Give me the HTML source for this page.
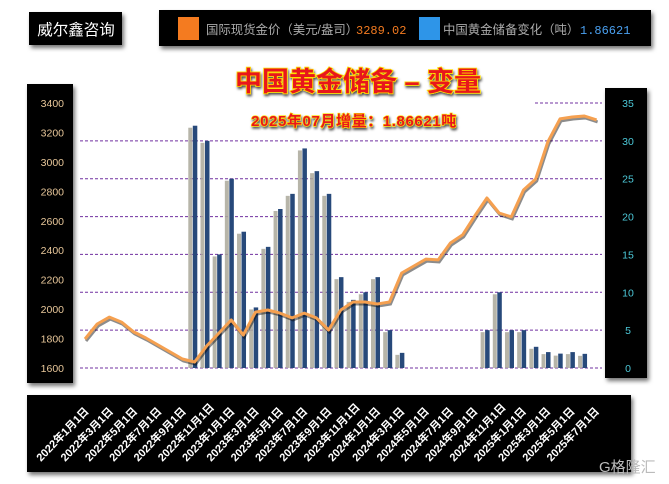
<!DOCTYPE html>
<html><head><meta charset="utf-8"><style>
body{margin:0;width:669px;height:484px;background:#fff;overflow:hidden;font-family:"Liberation Sans","Noto Sans CJK SC",sans-serif}
svg{display:block}
</style></head><body>
<svg id="c" width="669" height="484" xmlns="http://www.w3.org/2000/svg">
<defs>
<filter id="sh" x="-20%" y="-20%" width="140%" height="160%"><feDropShadow dx="2" dy="3" stdDeviation="2" flood-color="#000" flood-opacity="0.55"/></filter>
<filter id="ls" x="-5%" y="-20%" width="110%" height="140%"><feDropShadow dx="1" dy="2" stdDeviation="1.2" flood-color="#000" flood-opacity="0.7"/></filter>
</defs>
<rect x="29" y="12" width="93" height="33" fill="#000" filter="url(#sh)"/>
<text x="76" y="35" fill="#fff" font-size="15.5" text-anchor="middle">威尔鑫咨询</text>
<g>
<rect x="159" y="10" width="492" height="36" fill="#000" filter="url(#sh)"/>
<rect x="178" y="17" width="21" height="23" fill="#f47b20"/>
<text x="206" y="34" fill="#aaa" font-size="12.4">国际现货金价（美元/盎司）</text>
<text x="356" y="34" fill="#f47b20" font-size="12" font-family="Liberation Mono">3289.02</text>
<rect x="419" y="17" width="21" height="23" fill="#2e95e8"/>
<text x="443" y="34" fill="#aaa" font-size="12.4">中国黄金储备变化（吨）</text>
<text x="580" y="34" fill="#4aa0f0" font-size="12" font-family="Liberation Mono">1.86621</text>
</g>
<rect x="27" y="84" width="46" height="299" fill="#000" filter="url(#sh)"/>
<rect x="605" y="88" width="42" height="290" fill="#000" filter="url(#sh)"/>
<rect x="27" y="395" width="604" height="77" fill="#000" filter="url(#sh)"/>
<g id="grid"></g><g id="bars"></g><g id="line"></g><g id="ticks"></g>
<text x="358" y="91" text-anchor="middle" font-size="27" font-weight="bold" fill="#e8141a" stroke="#ffe000" stroke-width="1.6" paint-order="stroke" filter="url(#ls)">中国黄金储备 – 变量</text>
<text x="354" y="126" text-anchor="middle" font-size="15" font-weight="bold" letter-spacing="0.6" fill="#e8141a" stroke="#ffe000" stroke-width="1.2" paint-order="stroke" filter="url(#ls)">2025年07月增量：1.86621吨</text>
<text x="599" y="472" font-size="15" fill="#bbb">G格隆汇</text>
</svg>
<script>
const reserveChange=[0,0,0,0,0,0,0,0,0,0,32,30,15,25,18,8,16,21,23,29,26,23,12,9,10,12,5,2,0,0,0,0,0,0,5,10,5,5,2.8,2.1,1.9,2.1,1.87];
const goldPrice=[1797,1899,1946,1912,1845,1804,1756,1709,1661,1641,1750,1838,1926,1824,1980,1994,1973,1940,1973,1940,1858,1994,2048,2048,2035,2048,2245,2293,2340,2334,2449,2504,2633,2755,2653,2626,2809,2884,3135,3292,3305,3312,3285];
const leftTicks=[1600,1800,2000,2200,2400,2600,2800,3000,3200,3400];
const rightTicks=[0,5,10,15,20,25,30,35];
const xLabels=["2022年1月1日","2022年3月1日","2022年5月1日","2022年7月1日","2022年9月1日","2022年11月1日","2023年1月1日","2023年3月1日","2023年5月1日","2023年7月1日","2023年9月1日","2023年11月1日","2024年1月1日","2024年3月1日","2024年5月1日","2024年7月1日","2024年9月1日","2024年11月1日","2025年1月1日","2025年3月1日","2025年5月1日","2025年7月1日"];
const NS="http://www.w3.org/2000/svg";
const yR=v=>368-v*(265/35);
const yL=v=>368-(v-1600)*(265/1800);
const xB=i=>73+12.18*i;
const xLn=i=>85+12.18*i;
function mk(t,a,p){const e=document.createElementNS(NS,t);for(const k in a)e.setAttribute(k,a[k]);p.appendChild(e);return e;}
const grid=document.getElementById('grid'),bars=document.getElementById('bars'),line=document.getElementById('line'),ticks=document.getElementById('ticks');
rightTicks.forEach(v=>{
 const g=mk('line',{x1:v===35?535:80,x2:602,y1:yR(v),y2:yR(v),stroke:'#7030a0','stroke-width':1,'stroke-dasharray':'3,2'},grid);
 
 
 const t=mk('text',{x:628,y:yR(v)+4,fill:'#4cc8d8','font-size':10.5,'text-anchor':'middle'},ticks);t.textContent=v;
 
 
});
leftTicks.forEach(v=>{
 const t=mk('text',{x:64,y:yL(v)+4,fill:'#e8c79a','font-size':10.5,'text-anchor':'end'},ticks);t.textContent=v;
 
 
});
reserveChange.forEach((v,i)=>{
 if(v<=0)return;
 const x=xB(i);
 const s=mk('rect',{x:x-6.5,y:yR(v)+2,width:4,height:368-yR(v)-2,fill:'#aaa89a',opacity:0.85},bars);
 
 
 const b=mk('rect',{x:x-2,y:yR(v),width:4.5,height:368-yR(v),fill:'#27497a'},bars);
 
 
});
const pts=goldPrice.map((v,i)=>xLn(i).toFixed(1)+','+yL(v).toFixed(1)).join(' ');
const sh=mk('polyline',{points:pts,fill:'none',stroke:'#000','stroke-width':3,opacity:0.45,transform:'translate(1,2)'},line);


const pl=mk('polyline',{points:pts,fill:'none',stroke:'#f5a050','stroke-width':3,'stroke-linejoin':'round'},line);


xLabels.forEach((s,i)=>{
 const x=41+24.3*i,y=462;
 const t=mk('text',{x:x,y:y,fill:'#fff','font-size':11,'font-weight':'bold',transform:`rotate(-46 ${x} ${y})`},ticks);t.textContent=s;
 
 
});
</script>
</body></html>
